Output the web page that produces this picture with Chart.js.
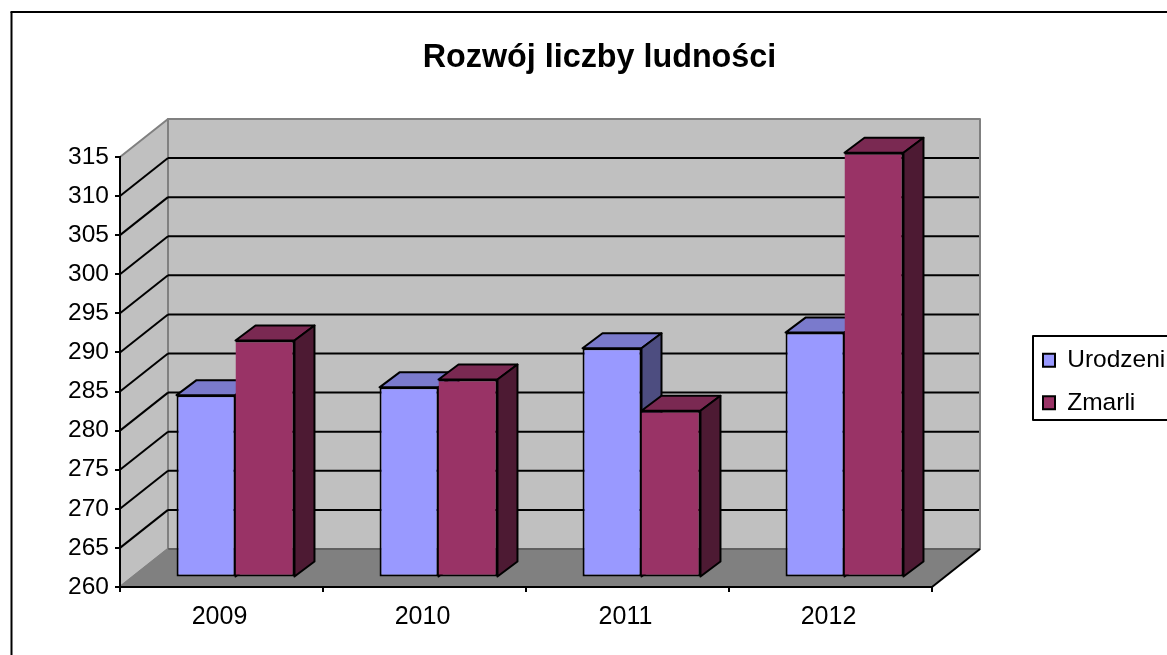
<!DOCTYPE html>
<html lang="pl">
<head>
<meta charset="utf-8">
<title>Rozwój liczby ludności</title>
<script src="https://cdn.jsdelivr.net/npm/chart.js@4"></script>
<style>
  html, body { margin: 0; padding: 0; background: #fff; overflow: hidden; }
  canvas { display: block; }
</style>
</head>
<body>
<canvas id="chart" width="1167" height="655"></canvas>
<script>
const years    = ['2009', '2010', '2011', '2012'];
const urodzeni = [283, 284, 289, 291];
const zmarli   = [290, 285, 281, 314];

// ── 3D LOOK ──────────────────────────────────
const WALL = { dx: 48, dy: -38 };   // depth of the back wall
const SLOT = { dx: 14, dy: -12 };   // bars stand this far behind the front edge
const BAR  = { dx: 20, dy: -15 };   // depth of a single bar

function poly(ctx, pts, fill, stroke, lw) {
  ctx.beginPath();
  pts.forEach((p, i) => i ? ctx.lineTo(p[0], p[1]) : ctx.moveTo(p[0], p[1]));
  ctx.closePath();
  if (fill) { ctx.fillStyle = fill; ctx.fill(); }
  if (stroke) { ctx.strokeStyle = stroke; ctx.lineWidth = lw; ctx.lineJoin = 'round'; ctx.stroke(); }
}

function line(ctx, x1, y1, x2, y2, color, lw) {
  ctx.beginPath();
  ctx.moveTo(x1, y1);
  ctx.lineTo(x2, y2);
  ctx.strokeStyle = color;
  ctx.lineWidth = lw;
  ctx.stroke();
}

const room = {
  id: 'room',
  afterLayout(chart) {
    // legend box and title sit where the original has them
    const lg = chart.legend;
    lg.left = 1025; lg.right = 1167; lg.top = 330; lg.bottom = 600;
    chart.titleBlock.left = 32; chart.titleBlock.right = 1167;
  },
  beforeDraw(chart) {
    const ctx = chart.ctx;
    const { left: l, right: r, top: t, bottom: b } = chart.chartArea;
    const { dx, dy } = WALL;
    const y = chart.scales.y;

    ctx.save();
    // outer frame, right and bottom edges fall off the picture
    line(ctx, 11.5, 655, 11.5, 12, '#000', 2);
    line(ctx, 10.5, 12, 1167, 12, '#000', 2);

    // walls
    poly(ctx, [[l, t], [l + dx, t + dy], [l + dx, b + dy], [l, b]], '#c0c0c0', '#808080', 2);
    poly(ctx, [[l + dx, t + dy], [r + dx, t + dy], [r + dx, b + dy], [l + dx, b + dy]], '#c0c0c0', '#808080', 2);

    // gridlines on both walls
    y.ticks.forEach(tk => {
      if (tk.value === y.min || tk.value === y.max) return;
      const py = y.getPixelForValue(tk.value);
      line(ctx, l, py, l + dx, py + dy, '#000', 2);
      line(ctx, l + dx, py + dy, r + dx - 1, py + dy, '#000', 2);
    });

    // floor
    poly(ctx, [[l, b], [l + dx, b + dy], [r + dx, b + dy], [r, b]], '#808080');
    line(ctx, l + dx, b + dy, r + dx, b + dy, '#606060', 2);
    line(ctx, l, b, l + dx, b + dy, '#808080', 2);
    line(ctx, r, b, r + dx, b + dy, '#000', 2);

    // legend frame
    ctx.strokeStyle = '#000';
    ctx.lineWidth = 2;
    ctx.beginPath();
    ctx.moveTo(1168, 336);
    ctx.lineTo(1033, 336);
    ctx.lineTo(1033, 420);
    ctx.lineTo(1168, 420);
    ctx.stroke();
    ctx.restore();
  },
  // top and side faces go first, series by series, the fronts then cover what they should
  beforeDatasetsDraw(chart) {
    const ctx = chart.ctx;
    ctx.save();
    ctx.translate(SLOT.dx, SLOT.dy);
    chart.data.datasets.forEach((ds, i) => {
      chart.getDatasetMeta(i).data.forEach(el => {
        const x1 = el.x - el.width / 2, x2 = el.x + el.width / 2;
        const top = el.y, bot = el.base;
        const { dx, dy } = BAR;
        poly(ctx, [[x1, top], [x1 + dx, top + dy], [x2 + dx, top + dy], [x2, top]], ds.topColor, '#000', 2);
        poly(ctx, [[x2, top], [x2 + dx, top + dy], [x2 + dx, bot + dy], [x2, bot]], ds.sideColor, '#000', 2);
      });
    });
    ctx.restore();
  },
  beforeDatasetDraw(chart) {
    chart.ctx.save();
    chart.ctx.translate(SLOT.dx, SLOT.dy);
  },
  afterDatasetDraw(chart) {
    chart.ctx.restore();
  }
};

// ── CHART ────────────────────────────────────
new Chart(document.getElementById('chart'), {
  type: 'bar',
  plugins: [room],
  data: {
    labels: years,
    datasets: [
      { label: 'Urodzeni', data: urodzeni, base: 259.8, backgroundColor: '#9999ff', topColor: '#7a7acc', sideColor: '#4d4d80',
        borderColor: '#000', borderWidth: 2, borderSkipped: false, clip: false },
      { label: 'Zmarli', data: zmarli, base: 259.8, backgroundColor: '#993366', topColor: '#7a2952', sideColor: '#4d1a33',
        borderColor: '#000', borderWidth: 2, borderSkipped: 'left', clip: false }
    ]
  },
  options: {
    responsive: false,
    animation: false,
    devicePixelRatio: 1,
    layout: { padding: { left: 0, right: 235, top: 0, bottom: 0 } },
    categoryPercentage: 0.581,
    barPercentage: 1,
    plugins: {
      tooltip: { enabled: false },
      title: {
        display: true,
        text: 'Rozwój liczby ludności',
        color: '#000',
        font: { family: '"Liberation Sans", Arial, sans-serif', size: 32.3, weight: 'bold', lineHeight: 1.2 },
        padding: { top: 39, bottom: 79.2 }
      },
      legend: {
        position: 'chartArea',
        align: 'start',
        labels: {
          color: '#000',
          boxWidth: 12,
          boxHeight: 13,
          padding: 18,
          font: { family: '"Liberation Sans", Arial, sans-serif', size: 24.5 }
        }
      }
    },
    scales: {
      x: {
        grid: { display: true, drawOnChartArea: false, drawTicks: true, tickLength: 5, color: '#000', lineWidth: 2 },
        border: { display: true, color: '#000', width: 2 },
        ticks: { color: '#000', padding: 10, labelOffset: -2, font: { family: '"Liberation Sans", Arial, sans-serif', size: 25 }, maxRotation: 0 },
        afterFit(s) { s.height = 68; }
      },
      y: {
        min: 260,
        max: 315,
        grid: { display: true, drawOnChartArea: false, drawTicks: true, tickLength: 5, color: '#000', lineWidth: 2 },
        border: { display: true, color: '#000', width: 2 },
        ticks: { stepSize: 5, color: '#000', padding: 6, font: { family: '"Liberation Sans", Arial, sans-serif', size: 24.5 } },
        afterFit(s) { s.width = 120; }
      }
    }
  }
});
</script>
</body>
</html>
